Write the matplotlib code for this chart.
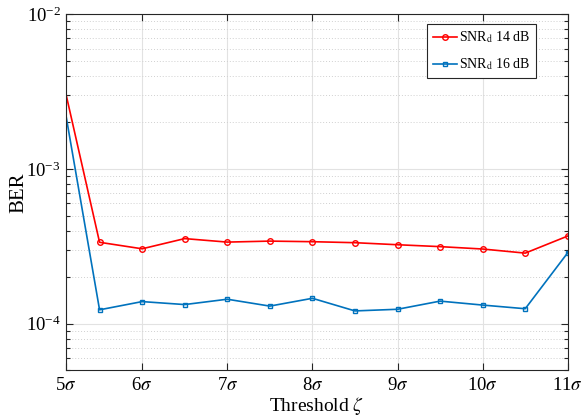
import matplotlib
matplotlib.use("Agg")
import matplotlib.pyplot as plt
from matplotlib.ticker import LogLocator, NullFormatter, FixedLocator

plt.rcParams['font.family'] = ['Liberation Serif', 'DejaVu Serif']
plt.rcParams['mathtext.fontset'] = 'stix'

thresholds = [5, 5.5, 6, 6.5, 7, 7.5, 8, 8.5, 9, 9.5, 10, 10.5, 11]
ber_14dB = [5.5e-3, 3.36e-4, 3.05e-4, 3.55e-4, 3.37e-4, 3.42e-4, 3.39e-4,
            3.34e-4, 3.24e-4, 3.15e-4, 3.04e-4, 2.86e-4, 3.69e-4]
ber_16dB = [4.8e-3, 1.23e-4, 1.39e-4, 1.33e-4, 1.44e-4, 1.30e-4, 1.46e-4,
            1.21e-4, 1.24e-4, 1.40e-4, 1.32e-4, 1.25e-4, 2.88e-4]
labels = [r'SNR$_\mathrm{d}$ 14 dB', r'SNR$_\mathrm{d}$ 16 dB']
tick_pos = [5.1, 6, 7, 8, 9, 10, 11]
tick_labels = [r'5$\sigma$', r'6$\sigma$', r'7$\sigma$', r'8$\sigma$', r'9$\sigma$',
               r'10$\sigma$', r'11$\sigma$']

W, H = 582, 417
fig = plt.figure(figsize=(W / 100, H / 100), dpi=100)
ax = fig.add_axes([65.5 / W, (H - 370.3) / H, (567.8 - 65.5) / W, (370.3 - 14.3) / H])

ax.plot(thresholds, ber_14dB, color='#FF0000', lw=1.2, marker='o', ms=4,
        mfc='none', mew=1.0, label=labels[0])
ax.plot(thresholds, ber_16dB, color='#0072BD', lw=1.2, marker='s', ms=3.5,
        mfc='none', mew=1.0, label=labels[1])

ax.set_yscale('log')
ax.set_ylim(5e-5, 1e-2)
ax.set_xlim(5.1, 11)
ax.xaxis.set_major_locator(FixedLocator(tick_pos))
ax.set_xticklabels(tick_labels)
ax.yaxis.set_major_locator(LogLocator(base=10, numticks=10))
ax.yaxis.set_minor_locator(LogLocator(base=10, subs=range(2, 10), numticks=20))
ax.yaxis.set_minor_formatter(NullFormatter())

ax.grid(True, which='major', axis='both', color='#e2e2e2', lw=0.8, ls='-')
ax.grid(True, which='minor', axis='y', color='#d0d0d0', lw=0.7, ls=(0, (1, 2)))
ax.set_axisbelow(True)

ax.tick_params(which='both', direction='in', top=True, right=True, labelsize=13.5,
               color='#262626', width=0.8)
ax.tick_params(which='major', length=5)
ax.tick_params(which='minor', length=3)
ax.tick_params(axis='x', pad=5)
for s in ax.spines.values():
    s.set_color('#262626')
    s.set_linewidth(0.8)

ax.set_xlabel(r'Threshold $\zeta$', fontsize=14, labelpad=0.5)
ax.set_ylabel('BER', fontsize=15, labelpad=-2)

leg = ax.legend(loc='upper right', bbox_to_anchor=(536 / W, (H - 24) / H),
                bbox_transform=fig.transFigure, fontsize=10, frameon=True,
                fancybox=False, edgecolor='#262626', framealpha=1,
                handlelength=1.7, borderpad=0.4, labelspacing=0.8, handletextpad=0.2,
                borderaxespad=0)
leg.get_frame().set_linewidth(0.8)

fig.savefig('out.png', dpi=100)
